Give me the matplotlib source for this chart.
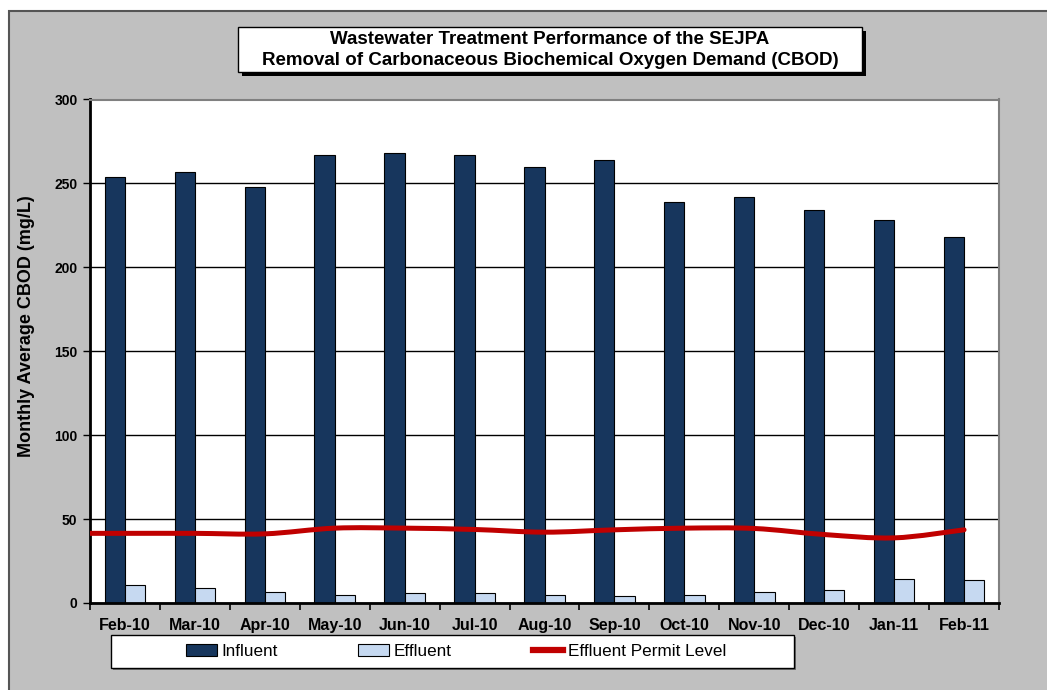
import numpy as np
import matplotlib
matplotlib.use("Agg")
import matplotlib.pyplot as plt
from matplotlib.patches import Rectangle, Patch, PathPatch
from matplotlib.lines import Line2D
from matplotlib.path import Path

# data
months = ["Feb-10", "Mar-10", "Apr-10", "May-10", "Jun-10", "Jul-10", "Aug-10",
          "Sep-10", "Oct-10", "Nov-10", "Dec-10", "Jan-11", "Feb-11"]
influent = [254, 257, 248, 267, 268, 267, 260, 264, 239, 242, 234, 228, 218]
effluent = [10.8, 8.8, 6.4, 5.0, 5.8, 5.8, 5.0, 4.2, 5.0, 6.4, 8.0, 14.3, 13.5]
permit = [41.5, 41.5, 41.2, 44.6, 44.6, 43.8, 42.2, 43.6, 44.6, 44.4, 40.8, 38.8, 43.6]
y_ticks = [0, 50, 100, 150, 200, 250, 300]

title = ("Wastewater Treatment Performance of the SEJPA\n"
         "Removal of Carbonaceous Biochemical Oxygen Demand (CBOD)")

W, H = 1047, 690
NAVY = "#17365D"
LIGHT = "#C6D9F1"
RED = "#C00000"

plt.rcParams["font.family"] = ["Liberation Sans", "DejaVu Sans"]


def fx(px):
    return px / W


def fy(py):
    return 1 - py / H


def smooth_path(xs, ys):
    # Excel-style smoothed line: Catmull-Rom segments as cubic Beziers
    pts = np.column_stack([xs, ys]).astype(float)
    n = len(pts)
    verts = [pts[0]]
    codes = [Path.MOVETO]
    for i in range(n - 1):
        p0 = pts[max(i - 1, 0)]
        p1 = pts[i]
        p2 = pts[i + 1]
        p3 = pts[min(i + 2, n - 1)]
        verts += [p1 + (p2 - p0) / 6, p2 - (p3 - p1) / 6, p2]
        codes += [Path.CURVE4] * 3
    return Path(verts, codes)


fig = plt.figure(figsize=(W / 100, H / 100), dpi=100, facecolor="white")

# gray chart frame (runs off the right and bottom of the image)
fig.add_artist(Rectangle((fx(9), -0.1), 1.0, fy(11) + 0.1, transform=fig.transFigure,
                         facecolor="#C0C0C0", edgecolor="#555555", lw=1.5, zorder=-1))

ax = fig.add_axes([fx(90), fy(603), fx(999) - fx(90), fy(99.5) - fy(603)])
ax.set_facecolor("white")

x = np.arange(len(months))
w = 0.29
ax.bar(x - w / 2, influent, w, color=NAVY, edgecolor="black", lw=0.8, zorder=2)
ax.bar(x + w / 2, effluent, w, color=LIGHT, edgecolor="black", lw=0.8, zorder=2)

# permit line, held flat back to the left edge of the plot
px_ = np.concatenate([[-0.5], x])
py_ = np.concatenate([[permit[0]], permit])
ax.add_patch(PathPatch(smooth_path(px_, py_), facecolor="none", edgecolor=RED,
                       lw=3.6, capstyle="round", zorder=3))

ax.set_xlim(-0.5, len(months) - 0.5)
ax.set_ylim(0, 300)
ax.set_yticks(y_ticks)
ax.set_yticklabels([str(v) for v in y_ticks], fontsize=10, fontweight="bold")
ax.set_xticks(x)
ax.set_xticklabels(months, fontsize=11.5, fontweight="bold")
ax.set_xticks(np.arange(-0.5, len(months), 1), minor=True)
ax.tick_params(axis="x", which="major", length=0, pad=11)
ax.tick_params(axis="x", which="minor", length=5, width=1.2, direction="out")
ax.tick_params(axis="y", which="major", length=5, width=1, direction="out", pad=4)

ax.grid(axis="y", color="black", lw=1)
ax.set_axisbelow(True)
for s in ["left", "bottom"]:
    ax.spines[s].set_color("black")
    ax.spines[s].set_linewidth(2)
for s in ["top", "right"]:
    ax.spines[s].set_color("#808080")
    ax.spines[s].set_linewidth(1.5)

ax.set_ylabel("Monthly Average CBOD (mg/L)", fontsize=13, fontweight="bold")
ax.yaxis.set_label_coords((35 - 90) / 909, 0.55)

# title box with shadow
tx0, ty0, tx1, ty1 = 238, 27, 862, 72
fig.add_artist(Rectangle((fx(tx0 + 4), fy(ty1 + 4)), fx(tx1) - fx(tx0), fy(ty0) - fy(ty1),
                         transform=fig.transFigure, facecolor="black", edgecolor="none", zorder=2))
fig.add_artist(Rectangle((fx(tx0), fy(ty1)), fx(tx1) - fx(tx0), fy(ty0) - fy(ty1),
                         transform=fig.transFigure, facecolor="white", edgecolor="black",
                         lw=1, zorder=3))
fig.text(fx((tx0 + tx1) / 2), fy((ty0 + ty1) / 2 + 0.5), title, ha="center", va="center",
         fontsize=13.5, fontweight="bold", linespacing=1.3, zorder=4)

# legend box with shadow
lx0, ly0, lx1, ly1 = 111, 635, 794, 668
fig.add_artist(Rectangle((fx(lx0 + 2), fy(ly1 + 2)), fx(lx1) - fx(lx0), fy(ly0) - fy(ly1),
                         transform=fig.transFigure, facecolor="#707070", edgecolor="none", zorder=2))
fig.add_artist(Rectangle((fx(lx0), fy(ly1)), fx(lx1) - fx(lx0), fy(ly0) - fy(ly1),
                         transform=fig.transFigure, facecolor="white", edgecolor="black",
                         lw=1, zorder=3))
handles = [Patch(facecolor=NAVY, edgecolor="black", lw=0.8),
           Patch(facecolor=LIGHT, edgecolor="black", lw=0.8),
           Line2D([], [], color=RED, lw=4.5)]
leg = fig.legend(handles, ["Influent", "Effluent", "Effluent Permit Level"],
                 loc="center", bbox_to_anchor=(fx(456), fy(651.5)), ncol=3,
                 frameon=False, fontsize=12.3, handlelength=1.8, handletextpad=0.25,
                 columnspacing=4.75)
leg.set_zorder(5)

fig.savefig("out.png", dpi=100)
